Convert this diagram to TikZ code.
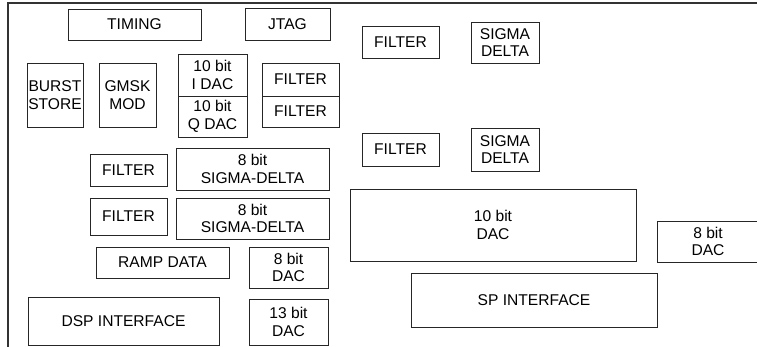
\documentclass[tikz,border=0pt]{standalone}
\usepackage{fontspec}
\setmainfont{Liberation Sans}
\begin{document}
\begin{tikzpicture}[x=1pt,y=-1pt,
  blk/.style={draw=black!85, line width=0.9pt, align=center, inner sep=0pt,
    font=\fontsize{15.6}{17.7}\selectfont, anchor=center},
  frame/.style={draw=black!80, line width=1.1pt}]
\path[use as bounding box, clip] (0,0) rectangle (757,347);
\draw[frame] (8,3) rectangle (770,360);
% top-left group
\node[blk, minimum width=133, minimum height=31] (timing) at (134.5,24.5) {TIMING};
\node[blk, minimum width=85, minimum height=32] (jtag) at (287.5,24) {JTAG};
\node[blk, minimum width=56, minimum height=64] (burst) at (55,95) {BURST\\STORE};
\node[blk, minimum width=57, minimum height=64] (gmsk) at (127.5,95) {GMSK\\MOD};
\node[blk, minimum width=69, minimum height=42] (idac) at (212.5,75) {10 bit\\I DAC};
\node[blk, minimum width=69, minimum height=41] (qdac) at (212.5,116.5) {10 bit\\Q DAC};
\node[blk, minimum width=77, minimum height=33] (filta) at (300.5,79.5) {FILTER};
\node[blk, minimum width=77, minimum height=31] (filtb) at (300.5,111.5) {FILTER};
% sigma-delta rows
\node[blk, minimum width=77, minimum height=32] (filtc) at (128.5,170) {FILTER};
\node[blk, minimum width=153, minimum height=42] (sd1) at (252.5,169) {8 bit\\SIGMA-DELTA};
\node[blk, minimum width=77, minimum height=37] (filtd) at (128.5,216.5) {FILTER};
\node[blk, minimum width=153, minimum height=41] (sd2) at (252.5,218.5) {8 bit\\SIGMA-DELTA};
\node[blk, minimum width=133, minimum height=31] (ramp) at (162.5,262.5) {RAMP DATA};
\node[blk, minimum width=79, minimum height=41] (dac8a) at (288.5,267.5) {8 bit\\DAC};
\node[blk, minimum width=191, minimum height=48] (dsp) at (123.5,321) {DSP INTERFACE};
\node[blk, minimum width=79, minimum height=46] (dac13) at (288.5,322) {13 bit\\DAC};
% right group
\node[blk, minimum width=77, minimum height=32] (filte) at (400.5,42) {FILTER};
\node[blk, minimum width=68, minimum height=41] (sda) at (505,42.5) {SIGMA\\DELTA};
\node[blk, minimum width=77, minimum height=33] (filtf) at (400.5,149.5) {FILTER};
\node[blk, minimum width=68, minimum height=43] (sdb) at (505,149.5) {SIGMA\\DELTA};
\node[blk, minimum width=286, minimum height=72] (dac10) at (493,225) {10 bit\\DAC};
\node[blk, draw=none] (dac8b) at (708,241.5) {8 bit\\DAC};
\draw[draw=black!85, line width=0.9pt] (657,221) rectangle (775,262);
\node[blk, minimum width=246, minimum height=54] (sp) at (534,300) {SP INTERFACE};
\end{tikzpicture}
\end{document}
